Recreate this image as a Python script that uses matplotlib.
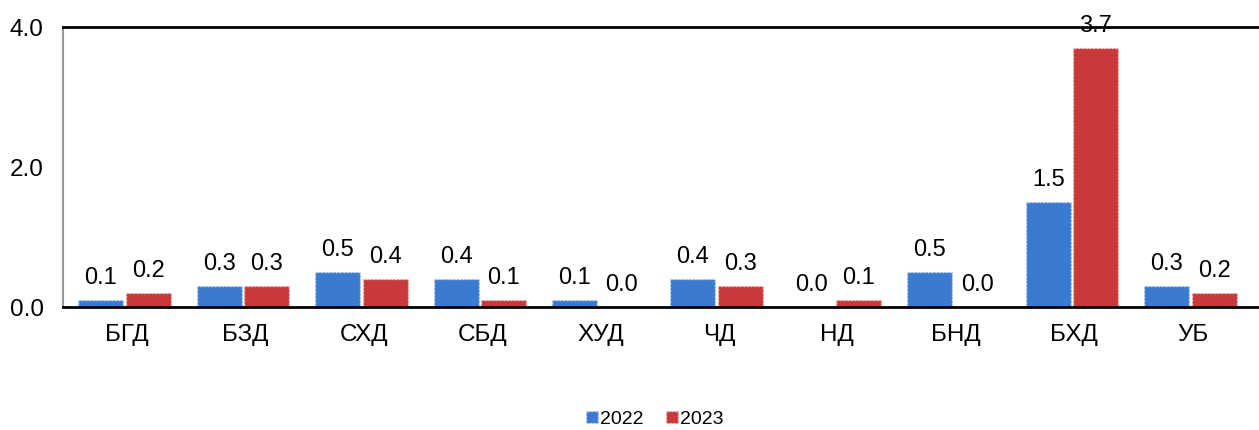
import numpy as np
import matplotlib.pyplot as plt
from matplotlib.ticker import FormatStrFormatter

plt.rcParams['font.family'] = ['Liberation Sans', 'DejaVu Sans']

# data
categories = ['БГД', 'БЗД', 'СХД', 'СБД', 'ХУД', 'ЧД', 'НД', 'БНД', 'БХД', 'УБ']
vals_2022 = [0.1, 0.3, 0.5, 0.4, 0.1, 0.4, 0.0, 0.5, 1.5, 0.3]
vals_2023 = [0.2, 0.3, 0.4, 0.1, 0.0, 0.3, 0.1, 0.0, 3.7, 0.2]
years = ['2022', '2023']

c_blue = '#3a7bd0'
c_red = '#c9383a'

fig = plt.figure(figsize=(12.59, 4.30), dpi=100)
ax = fig.add_axes([0.05, 0.286, 0.95, 0.651])

x = np.arange(len(categories))
w = 0.38
b1 = ax.bar(x - 0.22, vals_2022, w, color=c_blue, label=years[0], zorder=2,
            edgecolor='#dfe8f5', linestyle=':', linewidth=1)
b2 = ax.bar(x + 0.18, vals_2023, w, color=c_red, label=years[1], zorder=2,
            edgecolor='#f3dada', linestyle=':', linewidth=1)

# data labels
for bars, vals in [(b1, vals_2022), (b2, vals_2023)]:
    for r, v in zip(bars, vals):
        ax.annotate(f'{v:.1f}', (r.get_x() + r.get_width() / 2, r.get_height()),
                    xytext=(0, 8), textcoords='offset points',
                    ha='center', va='bottom', fontsize=17, zorder=5,
                    annotation_clip=False)

ax.set_xlim(-0.54, 9.56)
ax.set_ylim(0, 4.0)
ax.set_yticks([0, 2, 4])
ax.yaxis.set_major_formatter(FormatStrFormatter('%.1f'))
ax.set_xticks(x)
ax.set_xticklabels(categories)
ax.tick_params(axis='both', length=0, labelsize=17.5)
ax.tick_params(axis='x', pad=12)
ax.tick_params(axis='y', pad=14)

ax.spines['right'].set_visible(False)
ax.spines['top'].set_color('black')
ax.spines['top'].set_linewidth(2)
ax.spines['bottom'].set_color('black')
ax.spines['bottom'].set_linewidth(2)
ax.spines['left'].set_color('#999999')
ax.spines['left'].set_linewidth(1.5)

fig.legend(handles=[b1, b2], labels=years, loc='lower center',
           bbox_to_anchor=(0.52, -0.035), ncol=2, frameon=False,
           fontsize=14, handlelength=0.6, handleheight=0.6,
           handletextpad=0.1, columnspacing=1.2)

plt.savefig('out.png', dpi=100)
